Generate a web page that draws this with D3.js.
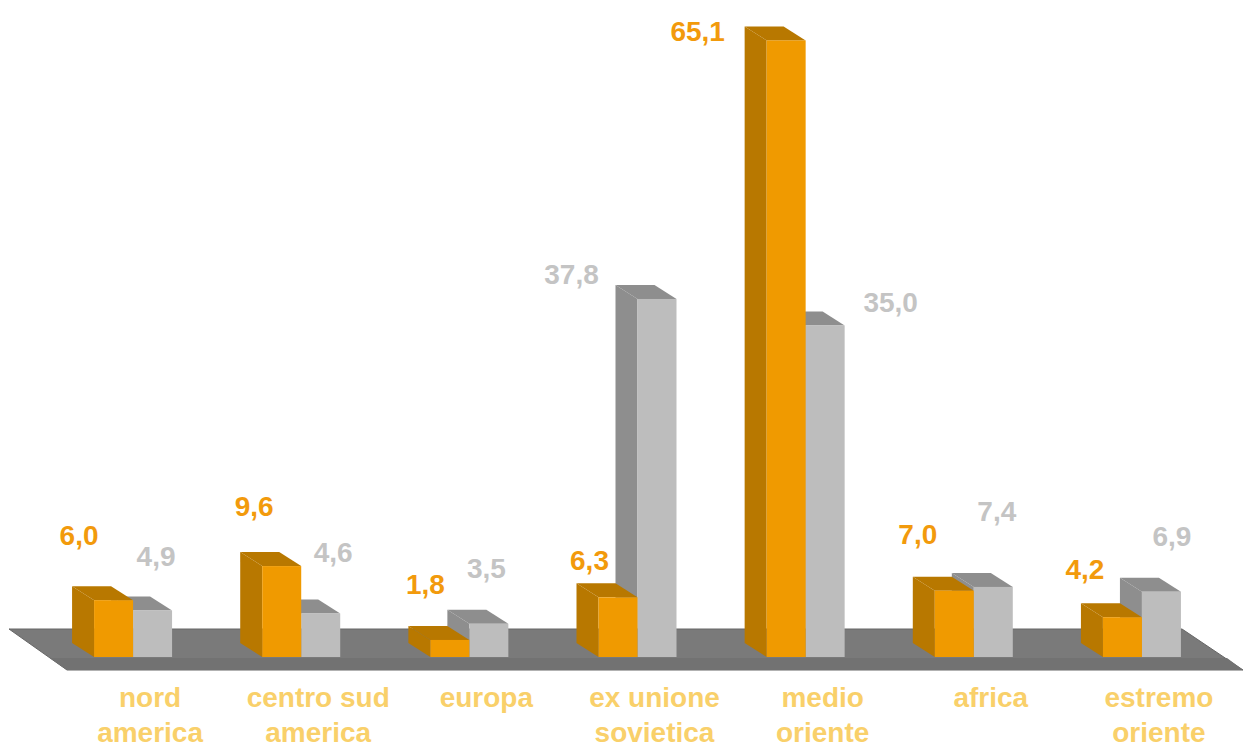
<!DOCTYPE html>
<html>
<head>
<meta charset="utf-8">
<script src="https://cdn.jsdelivr.net/npm/d3@7/dist/d3.min.js"></script>
<style>
  body { margin: 0; background: #fff; }
  text { font-family: "Liberation Sans", Arial, sans-serif; font-weight: bold; }
</style>
</head>
<body>
<script>
// data
const categories = ["nord america", "centro sud america", "europa", "ex unione sovietica", "medio oriente", "africa", "estremo oriente"];
const categoryLines = [["nord", "america"], ["centro sud", "america"], ["europa"], ["ex unione", "sovietica"], ["medio", "oriente"], ["africa"], ["estremo", "oriente"]];
const seriesOrange = [6.0, 9.6, 1.8, 6.3, 65.1, 7.0, 4.2];
const seriesGrey = [4.9, 4.6, 3.5, 37.8, 35.0, 7.4, 6.9];

// label placement (offset from the back top-left corner of each bar)
const orangeLabelShift = [[7, -51], [14, -46], [17, -42], [13, -23], [-47, 5], [5, -43], [4, -34]];
const greyLabelShift = [[45, -41], [54, -47], [39, -42], [-44, -11], [107, -10], [45, -62], [52, -42]];

(function () {
    const width = 1244;
    const height = 749;
    const depthX = -22, depthY = -14;
    const barW = 39;

    let svg = d3.select("body")
        .append("svg")
        .attr("width", width)
        .attr("height", height);

    let x = d3.scaleBand()
        .domain(categories)
        .range([49, 1226]);

    let inner = d3.scaleBand()
        .domain(["orange", "grey"])
        .range([-barW, barW]);

    let y = d3.scaleLinear()
        .domain([0, 70])
        .range([657, -6]);

    const y0 = y(0);
    const [xa, xb] = x.range();

    // floor
    let floor = [
        [xa - 40, y0 - 28], [xb - 44, y0 - 28],
        [xb + 17, y0 + 13], [xa + 18, y0 + 13]
    ];
    svg.append("polygon")
        .attr("points", floor.join(" "))
        .attr("fill", "#7a7a7a")
        .attr("stroke", "#666")
        .attr("stroke-width", 1);

    svg.append("polygon")
        .attr("points", [[xa + 1, y0 + 1], [xb + 1, y0 + 1], [xb + 17, y0 + 13], [xa + 18, y0 + 13]].join(" "))
        .attr("fill", "#727272");

    const fmt = v => d3.format(".1f")(v).replace(".", ",");

    const series = [
        {key: "grey", values: seriesGrey, front: "#bdbdbd", dark: "#8e8e8e", label: "#c4c4c4", shift: greyLabelShift},
        {key: "orange", values: seriesOrange, front: "#f09a00", dark: "#b87800", label: "#f29a0c", shift: orangeLabelShift}
    ];

    categories.forEach((c, i) => {
        let cx = x(c) + x.bandwidth() / 2;
        series.forEach(s => {
            let v = s.values[i];
            let left = cx + inner(s.key);
            let right = left + inner.bandwidth();
            let top = y(v);
            let g = svg.append("g").attr("class", "bar " + s.key);
            // side
            g.append("polygon")
                .attr("points", [[left, top], [left + depthX, top + depthY], [left + depthX, y0 + depthY], [left, y0]].join(" "))
                .attr("fill", s.dark);
            // top
            g.append("polygon")
                .attr("points", [[left, top], [left + depthX, top + depthY], [right + depthX, top + depthY], [right, top]].join(" "))
                .attr("fill", s.dark);
            // front
            g.append("rect")
                .attr("x", left)
                .attr("y", top)
                .attr("width", right - left)
                .attr("height", y0 - top)
                .attr("fill", s.front);
        });
    });

    // value labels
    series.forEach(s => {
        svg.selectAll(".lbl-" + s.key)
            .data(s.values)
            .enter()
            .append("text")
            .attr("class", "lbl-" + s.key)
            .attr("x", (d, i) => x(categories[i]) + x.bandwidth() / 2 + inner(s.key) + depthX + s.shift[i][0])
            .attr("y", (d, i) => y(d) + depthY + s.shift[i][1] + 10)
            .attr("text-anchor", "middle")
            .attr("font-size", 28)
            .attr("fill", s.label)
            .text(d => fmt(d));
    });

    // category labels
    let cat = svg.selectAll(".cat")
        .data(categories)
        .enter()
        .append("text")
        .attr("class", "cat")
        .attr("x", d => x(d) + x.bandwidth() / 2 + 17)
        .attr("y", 707)
        .attr("text-anchor", "middle")
        .attr("font-size", 28)
        .attr("fill", "#f9d06a");

    cat.selectAll("tspan")
        .data((d, i) => categoryLines[i])
        .enter()
        .append("tspan")
        .attr("x", function () { return d3.select(this.parentNode).attr("x"); })
        .attr("dy", (d, j) => j === 0 ? 0 : 35)
        .text(d => d);
})();
</script>
</body>
</html>
